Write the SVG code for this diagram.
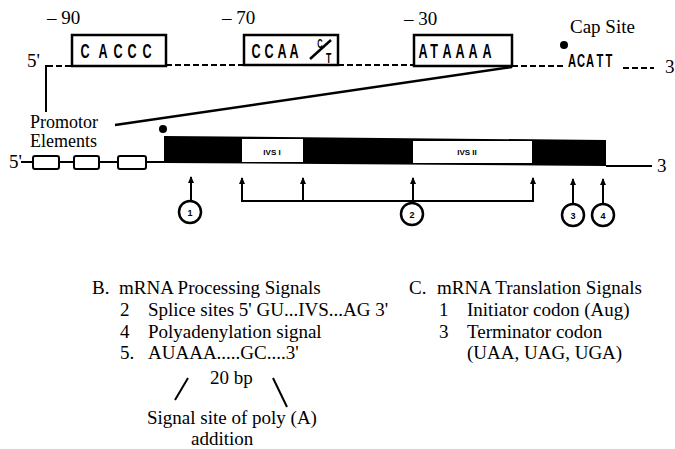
<svg xmlns="http://www.w3.org/2000/svg" width="675" height="449" viewBox="0 0 675 449">
<defs>
<style>
.t{font-family:"Liberation Serif","Times New Roman",serif;font-size:19px;fill:#000}
.bx{font-family:"Liberation Sans",Arial,sans-serif;font-weight:bold;font-size:21px;fill:#000;text-anchor:middle}
.box{fill:#fff;stroke:#000;stroke-width:2.5}
.dash{stroke:#000;stroke-width:2;stroke-dasharray:6 3;fill:none}
.ln{stroke:#000;stroke-width:2;fill:none}
.thick{stroke:#000;stroke-width:2.5;fill:none}
.circ{fill:#fff;stroke:#000;stroke-width:2.5}
.num{font-family:"Liberation Sans",Arial,sans-serif;font-weight:bold;font-size:9px;text-anchor:middle;fill:#000}
.ivs{font-family:"Liberation Sans",Arial,sans-serif;font-weight:bold;font-size:8px;text-anchor:middle;fill:#000}
.small{fill:#fff;stroke:#000;stroke-width:2}
</style>
<marker id="ah" markerWidth="7" markerHeight="6" refX="6" refY="3" orient="auto" markerUnits="userSpaceOnUse" viewBox="0 0 7 6">
<path d="M0,0 L7,3 L0,6 Z" fill="#000"/>
</marker>
</defs>
<rect width="675" height="449" fill="#fff"/>

<g id="labels-top">
<text class="t" x="47" y="24">– 90</text>
<text class="t" x="222" y="24">– 70</text>
<text class="t" x="404" y="25">– 30</text>
<text class="t" x="570" y="33">Cap Site</text>
<text class="t" x="27" y="67">5'</text>
<text class="t" x="665" y="73">3</text>
</g>

<g id="promoter-line">
<line class="dash" x1="47" y1="66" x2="72" y2="66"/>
<line class="dash" x1="166" y1="65" x2="244" y2="65"/>
<line class="dash" x1="338" y1="65" x2="414" y2="65"/>
<line class="dash" x1="512" y1="66" x2="566" y2="66"/>
<line class="dash" x1="623" y1="68" x2="654" y2="68"/>
<circle cx="564" cy="45" r="4" fill="#000"/>
<g transform="translate(0,67) scale(0.62,1)"><text class="bx" style="font-size:18px" x="922.6 937.1 951.6 967.7 982.3" y="0">ACATT</text></g>
</g>

<g id="box-caccc">
<rect class="box" x="72" y="35" width="94" height="31"/>
<g transform="translate(0,58) scale(0.6,1)"><text class="bx" x="141.7 171.7 196.7 220 245" y="0">CACCC</text></g>
</g>

<g id="box-ccaa">
<rect class="box" x="244" y="35" width="94" height="30"/>
<g transform="translate(0,58) scale(0.6,1)"><text class="bx" x="426.7 448.3 470 490" y="0">CCAA</text></g>
<g transform="scale(0.62,1)">
<text class="bx" style="font-size:12px" x="516" y="48">C</text>
<text class="bx" style="font-size:14px" x="530" y="63">T</text>
</g>
<line class="thick" x1="310" y1="59" x2="331" y2="40"/>
</g>

<g id="box-ataaaa">
<rect class="box" x="414" y="35" width="98" height="31"/>
<g transform="translate(0,58) scale(0.6,1)"><text class="bx" x="705 723.3 745 766.7 788.3 811.7" y="0">ATAAAA</text></g>
</g>

<g id="promoter-label">
<text class="t" style="font-size:18px" x="30" y="128">Promotor</text>
<text class="t" style="font-size:18px" x="30" y="147">Elements</text>
</g>

<g id="gene">
<text class="t" x="9" y="168">5'</text>
<line class="ln" x1="21" y1="162" x2="164" y2="162"/>
<rect class="small" x="33" y="156" width="26" height="13" rx="2"/>
<rect class="small" x="74" y="156" width="25" height="13" rx="2"/>
<rect class="small" x="118" y="156" width="28" height="13" rx="2"/>
<circle cx="163" cy="129" r="4" fill="#000"/>
<polygon points="164,136 606,140 606,166 164,163" fill="#000"/>
<line class="ln" x1="606" y1="166" x2="652" y2="166"/>
<text class="t" x="657" y="172">3</text>
</g>

<g id="ivs1">
<rect x="242" y="139" width="61" height="23" fill="#fff"/>
<text class="ivs" x="272" y="155">IVS I</text>
</g>
<g id="ivs2">
<rect x="413" y="141" width="119" height="22" fill="#fff"/>
<text class="ivs" x="467" y="155">IVS II</text>
</g>

<g id="connectors">
<line class="ln" x1="46" y1="65" x2="46" y2="112"/>
<line class="thick" x1="115" y1="125" x2="512" y2="67"/>
<line class="ln" x1="191" y1="200" x2="191" y2="177" marker-end="url(#ah)"/>
<line class="ln" x1="242" y1="201" x2="533" y2="201"/>
<line class="ln" x1="242" y1="202" x2="242" y2="178" marker-end="url(#ah)"/>
<line class="ln" x1="303" y1="201" x2="303" y2="178" marker-end="url(#ah)"/>
<line class="ln" x1="413" y1="201" x2="413" y2="178" marker-end="url(#ah)"/>
<line class="ln" x1="533" y1="202" x2="533" y2="178" marker-end="url(#ah)"/>
<line class="ln" x1="573" y1="204" x2="573" y2="179" marker-end="url(#ah)"/>
<line class="ln" x1="603" y1="204" x2="603" y2="179" marker-end="url(#ah)"/>
<line class="ln" x1="175" y1="400" x2="188" y2="378"/>
<line class="ln" x1="273" y1="378" x2="287" y2="407"/>
</g>

<g id="site1"><circle class="circ" cx="190" cy="212" r="11"/><text class="num" x="190" y="215.5">1</text></g>
<g id="site2"><circle class="circ" cx="412" cy="214" r="11"/><text class="num" x="412" y="217.5">2</text></g>
<g id="site3"><circle class="circ" cx="573" cy="215" r="11"/><text class="num" x="573" y="218.5">3</text></g>
<g id="site4"><circle class="circ" cx="603" cy="215" r="11"/><text class="num" x="603" y="218.5">4</text></g>

<g id="legend-b">
<text class="t" x="92" y="294">B.</text>
<text class="t" x="119" y="294">mRNA Processing Signals</text>
<text class="t" x="120" y="316">2</text>
<text class="t" x="148" y="316">Splice sites 5' GU...IVS...AG 3'</text>
<text class="t" x="120" y="338">4</text>
<text class="t" x="148" y="338">Polyadenylation signal</text>
<text class="t" x="120" y="359">5.</text>
<text class="t" x="148" y="359">AUAAA.....GC....3'</text>
<text class="t" x="210" y="384">20 bp</text>
<text class="t" x="147" y="424">Signal site of poly (A)</text>
<text class="t" x="191" y="445">addition</text>
</g>

<g id="legend-c">
<text class="t" x="409" y="294">C.</text>
<text class="t" x="437" y="294">mRNA Translation Signals</text>
<text class="t" x="439" y="316">1</text>
<text class="t" x="467" y="316">Initiator codon (Aug)</text>
<text class="t" x="439" y="338">3</text>
<text class="t" x="467" y="338">Terminator codon</text>
<text class="t" x="467" y="359">(UAA, UAG, UGA)</text>
</g>
</svg>
